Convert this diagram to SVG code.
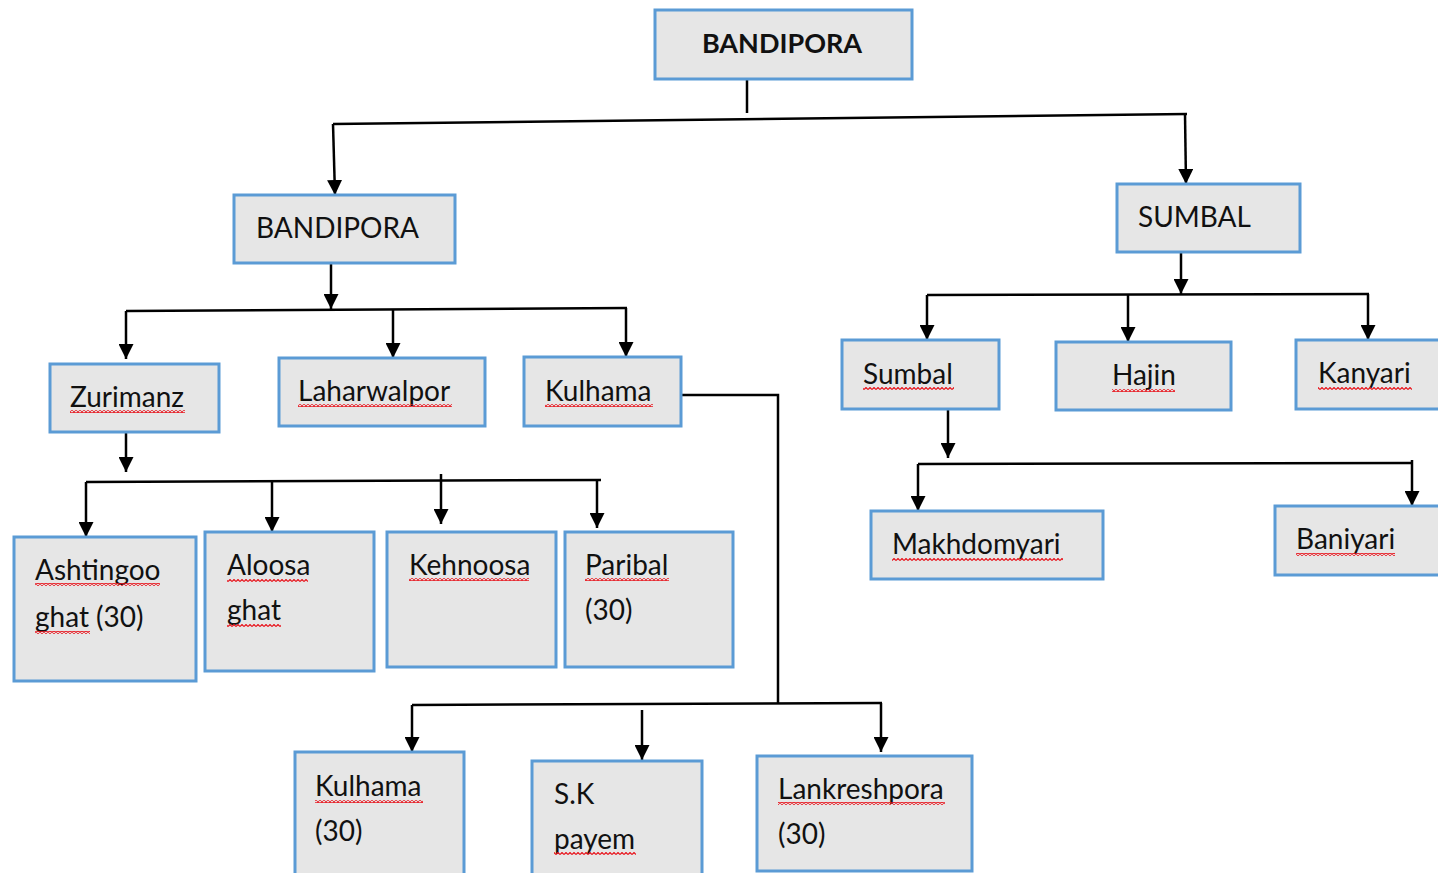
<svg xmlns="http://www.w3.org/2000/svg" width="1438" height="873" viewBox="0 0 1438 873">
<style>
.box{fill:#e6e6e6;stroke:#5b9bd5;stroke-width:3}
.t{font-family:Lato,"Open Sans","Liberation Sans",sans-serif;font-size:28px;fill:#111}
.b{font-weight:bold;font-size:27px}
.c{fill:none;stroke:#000;stroke-width:2.5}
.a{fill:none;stroke:#000;stroke-width:2.5;marker-end:url(#ah)}
.sq{fill:url(#wave)}
</style>
<defs>
<marker id="ah" viewBox="0 0 10 10" refX="10" refY="5" markerWidth="6" markerHeight="6" markerUnits="strokeWidth" orient="auto">
<path d="M0,0 L10,5 L0,10 z" fill="#000"/>
</marker>
<pattern id="wave" width="4" height="3" patternUnits="userSpaceOnUse">
<polyline points="0,2.5 2,0.5 4,2.5" fill="none" stroke="#e8141c" stroke-width="1.2"/>
</pattern>
</defs>
<g id="connectors">
<path class="c" d="M747,79 V113"/>
<path class="c" d="M333,124 L1187,114"/>
<path class="a" d="M333,124 L335,195"/>
<path class="a" d="M1185,114 L1186,184"/>
<path class="a" d="M331,263 V309"/>
<path class="c" d="M126,311 L627,308"/>
<path class="a" d="M126,311 V359"/>
<path class="a" d="M393,310 V358"/>
<path class="a" d="M626,308 V357"/>
<path class="a" d="M1181,252 V294"/>
<path class="c" d="M927,295 L1369,294"/>
<path class="a" d="M927,295 V340"/>
<path class="a" d="M1128,294 V342"/>
<path class="a" d="M1368,294 V340"/>
<path class="a" d="M948,409 V458"/>
<path class="c" d="M918,464 L1413,463"/>
<path class="a" d="M918,464 V511"/>
<path class="a" d="M1412,460 V506"/>
<path class="a" d="M126,422 V472"/>
<path class="c" d="M86,482 L601,480"/>
<path class="a" d="M86,482 V537"/>
<path class="a" d="M272,482 V532"/>
<path class="a" d="M441,474 V524"/>
<path class="a" d="M597,480 V528"/>
<path class="c" d="M681,395 H778 V704"/>
<path class="c" d="M412,705 L882,703"/>
<path class="a" d="M412,705 V752"/>
<path class="a" d="M642,710 V760"/>
<path class="a" d="M881,703 V752"/>
</g>
<g id="n-bandipora-top"><rect class="box" x="655" y="10" width="257" height="69"/><text class="t b" x="782" y="53" text-anchor="middle">BANDIPORA</text></g>
<g id="n-bandipora"><rect class="box" x="234" y="195" width="221" height="68"/><text class="t" x="256" y="238">BANDIPORA</text></g>
<g id="n-sumbal-top"><rect class="box" x="1117" y="184" width="183" height="68"/><text class="t" x="1138" y="227">SUMBAL</text></g>
<g id="n-zurimanz"><rect class="box" x="50" y="364" width="169" height="68"/><text class="t" x="70" y="407">Zurimanz</text><rect class="sq" x="70" y="410" width="115" height="3"/></g>
<g id="n-laharwalpor"><rect class="box" x="279" y="358" width="206" height="68"/><text class="t" x="298" y="401">Laharwalpor</text><rect class="sq" x="298" y="404" width="154" height="3"/></g>
<g id="n-kulhama"><rect class="box" x="524" y="357" width="157" height="69"/><text class="t" x="545" y="401">Kulhama</text><rect class="sq" x="545" y="404" width="108" height="3"/></g>
<g id="n-sumbal"><rect class="box" x="842" y="340" width="157" height="69"/><text class="t" x="863" y="384">Sumbal</text><rect class="sq" x="863" y="387" width="91" height="3"/></g>
<g id="n-hajin"><rect class="box" x="1056" y="342" width="175" height="68"/><text class="t" x="1112" y="385">Hajin</text><rect class="sq" x="1112" y="389" width="63" height="3"/></g>
<g id="n-kanyari"><rect class="box" x="1296" y="340" width="150" height="69"/><text class="t" x="1318" y="383">Kanyari</text><rect class="sq" x="1318" y="387" width="94" height="3"/></g>
<g id="n-makhdomyari"><rect class="box" x="871" y="511" width="232" height="68"/><text class="t" x="892" y="554">Makhdomyari</text><rect class="sq" x="892" y="558" width="171" height="3"/></g>
<g id="n-baniyari"><rect class="box" x="1275" y="506" width="170" height="69"/><text class="t" x="1296" y="549">Baniyari</text><rect class="sq" x="1296" y="553" width="99" height="3"/></g>
<g id="n-ashtingoo"><rect class="box" x="14" y="537" width="182" height="144"/><text class="t" x="35" y="580">Ashtingoo</text><text class="t" x="35" y="627">ghat (30)</text><rect class="sq" x="35" y="583" width="125" height="3"/><rect class="sq" x="35" y="631" width="55" height="3"/></g>
<g id="n-aloosa"><rect class="box" x="205" y="532" width="169" height="139"/><text class="t" x="227" y="575">Aloosa</text><text class="t" x="227" y="620">ghat</text><rect class="sq" x="227" y="579" width="81" height="3"/><rect class="sq" x="227" y="624" width="54" height="3"/></g>
<g id="n-kehnoosa"><rect class="box" x="387" y="532" width="169" height="135"/><text class="t" x="409" y="575">Kehnoosa</text><rect class="sq" x="409" y="578" width="120" height="3"/></g>
<g id="n-paribal"><rect class="box" x="565" y="532" width="168" height="135"/><text class="t" x="585" y="575">Paribal</text><text class="t" x="585" y="620">(30)</text><rect class="sq" x="585" y="578" width="84" height="3"/></g>
<g id="n-kulhama30"><rect class="box" x="295" y="752" width="169" height="124"/><text class="t" x="315" y="796">Kulhama</text><text class="t" x="315" y="841">(30)</text><rect class="sq" x="315" y="800" width="108" height="3"/></g>
<g id="n-skpayem"><rect class="box" x="532" y="761" width="170" height="115"/><text class="t" x="554" y="804">S.K</text><text class="t" x="554" y="849">payem</text><rect class="sq" x="554" y="852" width="82" height="3"/></g>
<g id="n-lankreshpora"><rect class="box" x="757" y="756" width="215" height="115"/><text class="t" x="778" y="799">Lankreshpora</text><text class="t" x="778" y="844">(30)</text><rect class="sq" x="778" y="802" width="167" height="3"/></g>
</svg>
